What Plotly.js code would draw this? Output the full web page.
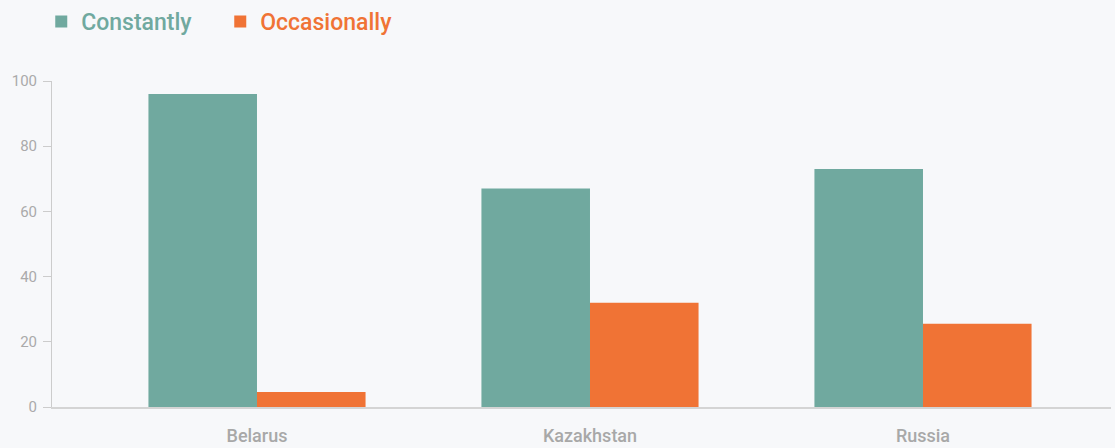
<!DOCTYPE html>
<html><head><meta charset="utf-8">
<script src="https://cdn.plot.ly/plotly-3.0.1.min.js"></script>
<style>html,body{margin:0;padding:0;background:#f7f8fa;}</style>
</head><body>
<div id="chart" style="width:1115px;height:448px;"></div>
<script>
const categories = ["Belarus", "Kazakhstan", "Russia"];
const constantly = [96, 67, 73];
const occasionally = [4.6, 32, 25.5];
const seriesNames = ["Constantly", "Occasionally"];
const yTicks = [0, 20, 40, 60, 80, 100];

const teal = "#70a99f", orange = "#f07335";
const data = [
  {type: "bar", x: categories, y: constantly, name: `<span style="color:${teal}">${seriesNames[0]}</span>`, marker: {color: teal}, hoverinfo: "y"},
  {type: "bar", x: categories, y: occasionally, name: `<span style="color:${orange}">${seriesNames[1]}</span>`, marker: {color: orange}, hoverinfo: "y"}
];
const layout = {
  width: 1115, height: 448,
  paper_bgcolor: "#f7f8fa", plot_bgcolor: "#f7f8fa",
  font: {family: "Roboto, 'Noto Sans', sans-serif", color: "#aaaaaa"},
  margin: {l: 52, r: 4, t: 81, b: 41, pad: 0},
  barmode: "group", bargap: 0.348, bargroupgap: 0,
  showlegend: true,
  legend: {orientation: "h", x: 0.037, xanchor: "left", y: 1, yanchor: "top", xref: "container", yref: "container",
           font: {size: 23, weight: 500}, itemwidth: 30, entrywidth: 134, traceorder: "normal"},
  xaxis: {range: [-0.6156, 2.5646], showgrid: false, zeroline: false, showline: true, linecolor: "#d4d4d4", linewidth: 2,
          ticks: "", tickfont: {size: 18, color: "#a8a8a8", weight: 500}, ticklabelstandoff: 11, fixedrange: true},
  yaxis: {range: [0, 100], tickvals: yTicks, showgrid: false, zeroline: false, showline: true, linecolor: "#cccccc", linewidth: 1,
          ticks: "outside", ticklen: 8, tickcolor: "#cccccc", tickfont: {size: 15, color: "#aaaaaa"}, ticklabelstandoff: 3, fixedrange: true}
};
Plotly.newPlot("chart", data, layout, {displayModeBar: false, staticPlot: true});
</script>
</body></html>
